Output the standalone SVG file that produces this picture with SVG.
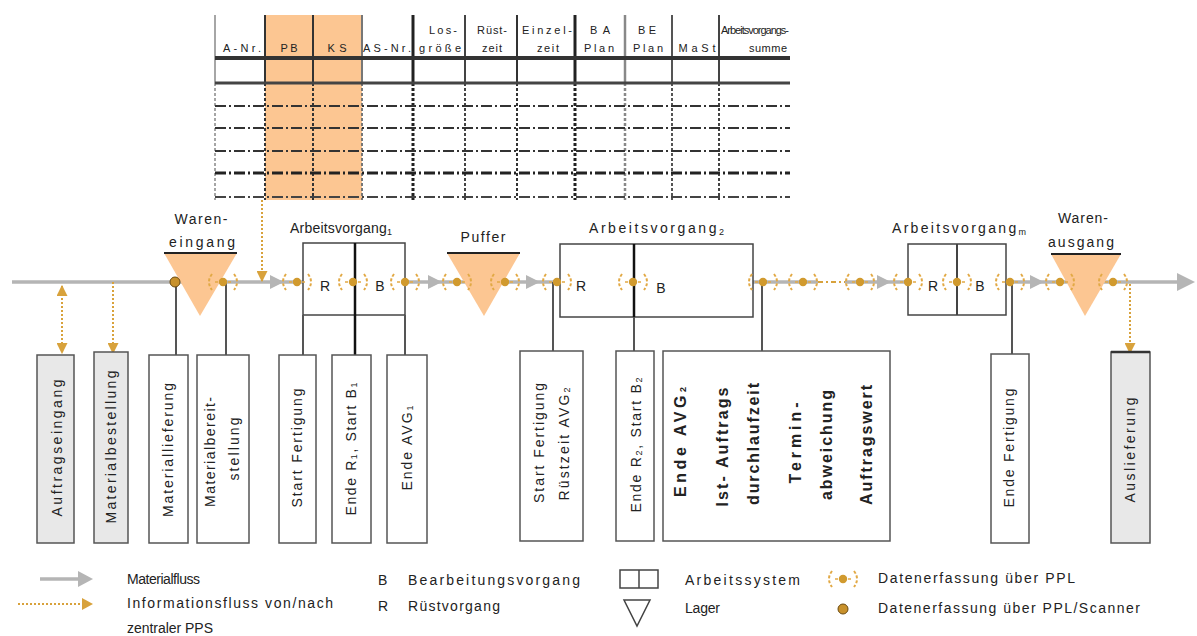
<svg xmlns="http://www.w3.org/2000/svg" width="1197" height="636" viewBox="0 0 1197 636">
  <style>
    text { font-family: "Liberation Sans", Arial, sans-serif; fill: #222; }
    .hd { font-size: 11px; text-anchor: middle; dominant-baseline: central; }
    .lbl { font-size: 14px; text-anchor: middle; dominant-baseline: central; }
    .st { font-size: 14px; dominant-baseline: central; }
    .vt { font-size: 14px; text-anchor: middle; dominant-baseline: central; }
    .vb { font-size: 16px; font-weight: bold; text-anchor: middle; dominant-baseline: central; }
    .sub { font-size: 9px; }
    .box { fill: #fff; stroke: #555; stroke-width: 1.5; }
    .gbox { fill: #e8e8e8; stroke: #555; stroke-width: 1.5; }
    .av { fill: #fff; stroke: #444; stroke-width: 1.5; }
    .lager { fill: #fcc692; }
    .flow { stroke: #b5b5b5; stroke-width: 3.5; fill: none; }
    .ahead { fill: #b5b5b5; }
    .conn { stroke: #555; stroke-width: 2; fill: none; }
    .info { stroke: #d8a23c; stroke-width: 2; stroke-dasharray: 2 2; fill: none; }
    .tl { fill: none; }
    .dd { stroke-dasharray: 11 3 2 3; }
    .dot { stroke-dasharray: 3 2; }
  </style>
  <defs>
    <marker id="ga" viewBox="0 0 10 10" refX="9" refY="5" markerWidth="11" markerHeight="11" markerUnits="userSpaceOnUse" orient="auto-start-reverse">
      <path d="M0,0 L10,5 L0,10 z" fill="#d8a23c"/>
    </marker>
    <!-- data capture point (PPL) -->
    <g id="sensor">
      <path d="M-11,-8 Q-17,0 -11,8" fill="none" stroke="#e2a945" stroke-width="2" stroke-dasharray="3 2"/>
      <path d="M11,-8 Q17,0 11,8" fill="none" stroke="#e2a945" stroke-width="2" stroke-dasharray="3 2"/>
      <path d="M-8,0 H-5 M5,0 H8" stroke="#e2a945" stroke-width="1.6"/>
      <circle r="4.2" fill="#d19a2e"/>
    </g>
  </defs>

  <rect width="1197" height="636" fill="#fff"/>

  <!-- order table -->
  <g id="table">
    <rect x="265" y="15" width="97" height="185" fill="#fcc692"/>
    <g class="tl">
      <line x1="215" y1="15" x2="215" y2="83" stroke="#888" stroke-width="1.5"/>
      <line x1="265" y1="15" x2="265" y2="83" stroke="#333" stroke-width="2"/>
      <line x1="313" y1="15" x2="313" y2="83" stroke="#333" stroke-width="2"/>
      <line x1="362" y1="15" x2="362" y2="83" stroke="#777" stroke-width="2"/>
      <line x1="413" y1="15" x2="413" y2="83" stroke="#222" stroke-width="3"/>
      <line x1="465" y1="15" x2="465" y2="83" stroke="#444" stroke-width="2"/>
      <line x1="517" y1="15" x2="517" y2="83" stroke="#333" stroke-width="2"/>
      <line x1="575" y1="15" x2="575" y2="83" stroke="#222" stroke-width="3"/>
      <line x1="625" y1="15" x2="625" y2="83" stroke="#888" stroke-width="2.5"/>
      <line x1="672" y1="15" x2="672" y2="83" stroke="#555" stroke-width="2"/>
      <line x1="719" y1="15" x2="719" y2="83" stroke="#444" stroke-width="2"/>
    </g>
    <g class="tl dot">
      <line x1="215" y1="83" x2="215" y2="200" stroke="#888" stroke-width="1.5"/>
      <line x1="265" y1="83" x2="265" y2="200" stroke="#333" stroke-width="2"/>
      <line x1="313" y1="83" x2="313" y2="200" stroke="#333" stroke-width="2"/>
      <line x1="362" y1="83" x2="362" y2="200" stroke="#777" stroke-width="2"/>
      <line x1="413" y1="83" x2="413" y2="200" stroke="#222" stroke-width="3"/>
      <line x1="465" y1="83" x2="465" y2="200" stroke="#444" stroke-width="2"/>
      <line x1="517" y1="83" x2="517" y2="200" stroke="#333" stroke-width="2"/>
      <line x1="575" y1="83" x2="575" y2="200" stroke="#222" stroke-width="3"/>
      <line x1="625" y1="83" x2="625" y2="200" stroke="#888" stroke-width="2.5"/>
      <line x1="672" y1="83" x2="672" y2="200" stroke="#555" stroke-width="2"/>
      <line x1="719" y1="83" x2="719" y2="200" stroke="#444" stroke-width="2"/>
    </g>
    <line x1="215" y1="58" x2="790" y2="58" stroke="#333" stroke-width="4"/>
    <line x1="215" y1="83" x2="790" y2="83" stroke="#444" stroke-width="3"/>
    <g class="dd">
      <line x1="215" y1="106" x2="790" y2="106" stroke="#333" stroke-width="2"/>
      <line x1="215" y1="128" x2="790" y2="128" stroke="#333" stroke-width="2"/>
      <line x1="215" y1="151" x2="790" y2="151" stroke="#333" stroke-width="2"/>
      <line x1="215" y1="173" x2="790" y2="173" stroke="#222" stroke-width="3"/>
      <line x1="215" y1="197" x2="790" y2="197" stroke="#444" stroke-width="2"/>
    </g>
    <text class="hd" x="242" y="48" textLength="38">A-Nr.</text>
    <text class="hd" x="289" y="48" textLength="17">PB</text>
    <text class="hd" x="337" y="48" textLength="19">KS</text>
    <text class="hd" x="387" y="48" textLength="48">AS-Nr.</text>
    <text class="hd" x="443" y="30" textLength="28">Los-</text>
    <text class="hd" x="440" y="48" textLength="42">größe</text>
    <text class="hd" x="492" y="30" textLength="30">Rüst-</text>
    <text class="hd" x="492" y="48" textLength="20">zeit</text>
    <text class="hd" x="547" y="30" textLength="50">Einzel-</text>
    <text class="hd" x="548" y="48" textLength="22">zeit</text>
    <text class="hd" x="600" y="30" textLength="20">BA</text>
    <text class="hd" x="599" y="48" textLength="30">Plan</text>
    <text class="hd" x="647" y="30" textLength="18">BE</text>
    <text class="hd" x="648" y="48" textLength="30">Plan</text>
    <text class="hd" x="697" y="48" textLength="37">MaSt</text>
    <text class="hd" x="755" y="30" textLength="68">Arbeitsvorgangs-</text>
    <text class="hd" x="768" y="48" textLength="38">summe</text>
  </g>

  <!-- material flow line -->
  <g id="flow">
    <line class="flow" x1="12" y1="282" x2="818" y2="282"/>
    <line class="flow" x1="845" y1="282" x2="1180" y2="282"/>
    <line x1="818" y1="282" x2="845" y2="282" stroke="#d8a23c" stroke-width="2" stroke-dasharray="5 3 2 3"/>
  </g>

  <!-- work systems -->
  <g id="av1">
    <rect class="av" x="303" y="243" width="102" height="72"/>
    <line x1="355" y1="243" x2="355" y2="315" stroke="#111" stroke-width="2.5"/>
    <text class="lbl" x="325" y="286">R</text>
    <text class="lbl" x="380" y="286">B</text>
    <text class="st" x="290" y="228" textLength="102">Arbeitsvorgang<tspan class="sub" dy="4">1</tspan></text>
  </g>
  <g id="av2">
    <rect class="av" x="560" y="244" width="193" height="73"/>
    <line x1="634" y1="244" x2="634" y2="317" stroke="#111" stroke-width="2.5"/>
    <text class="lbl" x="581" y="286">R</text>
    <text class="lbl" x="661" y="288">B</text>
    <text class="st" x="589" y="228" textLength="135">Arbeitsvorgang<tspan class="sub" dy="4">2</tspan></text>
  </g>
  <g id="avm">
    <rect class="av" x="908" y="244" width="98" height="71"/>
    <line x1="957" y1="244" x2="957" y2="315" stroke="#444" stroke-width="2"/>
    <text class="lbl" x="933" y="286">R</text>
    <text class="lbl" x="980" y="286">B</text>
    <text class="st" x="892" y="228" textLength="134">Arbeitsvorgang<tspan class="sub" dy="4">m</tspan></text>
  </g>

  <!-- stores -->
  <g id="wareneingang">
    <polygon class="lager" points="164,253 237,253 200,316"/>
    <line x1="164" y1="253" x2="237" y2="253" stroke="#222" stroke-width="2"/>
    <text class="lbl" x="201" y="219" textLength="53">Waren-</text>
    <text class="lbl" x="202" y="242" textLength="66">eingang</text>
  </g>
  <g id="puffer">
    <polygon class="lager" points="447,253 520,253 484,316"/>
    <line x1="447" y1="253" x2="520" y2="253" stroke="#222" stroke-width="2"/>
    <text class="lbl" x="483" y="237" textLength="45">Puffer</text>
  </g>
  <g id="warenausgang">
    <polygon class="lager" points="1051,254 1121,254 1085,316"/>
    <line x1="1051" y1="254" x2="1121" y2="254" stroke="#222" stroke-width="2"/>
    <text class="lbl" x="1083" y="218" textLength="50">Waren-</text>
    <text class="lbl" x="1081" y="242" textLength="66">ausgang</text>
  </g>

  <!-- connectors -->
  <g id="connectors">
    <line class="conn" x1="176" y1="282" x2="176" y2="355"/>
    <line class="conn" x1="226" y1="282" x2="226" y2="355"/>
    <line class="conn" x1="303" y1="315" x2="303" y2="355"/>
    <line x1="355" y1="315" x2="355" y2="355" stroke="#111" stroke-width="2.5"/>
    <line class="conn" x1="405" y1="315" x2="405" y2="355"/>
    <line class="conn" x1="553" y1="282" x2="553" y2="351"/>
    <line class="conn" x1="634" y1="317" x2="634" y2="351"/>
    <line class="conn" x1="762" y1="282" x2="762" y2="351"/>
    <line class="conn" x1="1012" y1="282" x2="1012" y2="354"/>
    <line class="info" x1="62" y1="286" x2="62" y2="353" marker-start="url(#ga)" marker-end="url(#ga)"/>
    <line class="info" x1="113" y1="282" x2="113" y2="353" marker-end="url(#ga)"/>
    <line class="info" x1="1130" y1="284" x2="1130" y2="353" marker-end="url(#ga)"/>
    <line class="info" x1="262" y1="200" x2="262" y2="281" marker-end="url(#ga)"/>
    <polygon class="ahead" points="270,275 284,282 270,289"/>
    <polygon class="ahead" points="428,275 442,282 428,289"/>
    <polygon class="ahead" points="526,275 540,282 526,289"/>
    <polygon class="ahead" points="877,275 891,282 877,289"/>
    <polygon class="ahead" points="1030,275 1044,282 1030,289"/>
    <polygon class="ahead" points="1177,273 1195,282 1177,291"/>
  </g>

  <!-- data capture points -->
  <g id="capture">
    <circle cx="175" cy="282" r="5" fill="#c8912b" stroke="#6b4a10" stroke-width="1"/>
    <use href="#sensor" x="223" y="282"/>
    <use href="#sensor" x="297" y="282"/>
    <use href="#sensor" x="353" y="282"/>
    <use href="#sensor" x="405" y="282"/>
    <use href="#sensor" x="457" y="282"/>
    <use href="#sensor" x="505" y="282"/>
    <use href="#sensor" x="557" y="282"/>
    <use href="#sensor" x="633" y="282"/>
    <use href="#sensor" x="763" y="282"/>
    <use href="#sensor" x="803" y="282"/>
    <use href="#sensor" x="860" y="282"/>
    <use href="#sensor" x="908" y="282"/>
    <use href="#sensor" x="957" y="282"/>
    <use href="#sensor" x="1010" y="282"/>
    <use href="#sensor" x="1060" y="282"/>
    <use href="#sensor" x="1113" y="282"/>
  </g>

  <!-- event boxes -->
  <g id="auftragseingang">
    <rect class="gbox" x="37" y="355" width="37" height="188"/>
    <text class="vt" transform="translate(57,448) rotate(-90)" textLength="137">Auftragseingang</text>
  </g>
  <g id="materialbestellung">
    <rect class="gbox" x="94" y="352" width="34" height="191"/>
    <text class="vt" transform="translate(111,447) rotate(-90)" textLength="153">Materialbestellung</text>
  </g>
  <g id="materiallieferung">
    <rect class="box" x="149" y="355" width="39" height="188"/>
    <text class="vt" transform="translate(168,450) rotate(-90)" textLength="134">Materiallieferung</text>
  </g>
  <g id="materialbereitstellung">
    <rect class="box" x="197" y="355" width="52" height="188"/>
    <text class="vt" transform="translate(210,452) rotate(-90)" textLength="110">Materialbereit-</text>
    <text class="vt" transform="translate(234,449) rotate(-90)" textLength="63">stellung</text>
  </g>
  <g id="start-fertigung-1">
    <rect class="box" x="279" y="355" width="37" height="188"/>
    <text class="vt" transform="translate(297,448) rotate(-90)" textLength="119">Start Fertigung</text>
  </g>
  <g id="ende-r1">
    <rect class="box" x="332" y="355" width="39" height="188"/>
    <text class="vt" transform="translate(351,449) rotate(-90)" textLength="133">Ende R<tspan class="sub" dy="3">1</tspan><tspan dy="-3">, Start B</tspan><tspan class="sub" dy="3">1</tspan></text>
  </g>
  <g id="ende-avg1">
    <rect class="box" x="387" y="355" width="40" height="188"/>
    <text class="vt" transform="translate(407,448) rotate(-90)" textLength="85">Ende AVG<tspan class="sub" dy="3">1</tspan></text>
  </g>
  <g id="start-fertigung-2">
    <rect class="box" x="520" y="351" width="63" height="190"/>
    <text class="vt" transform="translate(539,443) rotate(-90)" textLength="120">Start Fertigung</text>
    <text class="vt" transform="translate(564,444) rotate(-90)" textLength="113">Rüstzeit AVG<tspan class="sub" dy="3">2</tspan></text>
  </g>
  <g id="ende-r2">
    <rect class="box" x="616" y="351" width="38" height="190"/>
    <text class="vt" transform="translate(636,445) rotate(-90)" textLength="135">Ende R<tspan class="sub" dy="3">2</tspan><tspan dy="-3">, Start B</tspan><tspan class="sub" dy="3">2</tspan></text>
  </g>
  <g id="ende-avg2">
    <rect class="box" x="663" y="351" width="227" height="190"/>
    <text class="vb" transform="translate(680,442) rotate(-90)" textLength="110">Ende AVG<tspan class="sub" dy="3">2</tspan></text>
    <text class="vb" transform="translate(722,447) rotate(-90)" textLength="119">Ist- Auftrags</text>
    <text class="vb" transform="translate(753,444) rotate(-90)" textLength="122">durchlaufzeit</text>
    <text class="vb" transform="translate(795,443) rotate(-90)" textLength="81">Termin-</text>
    <text class="vb" transform="translate(826,445) rotate(-90)" textLength="110">abweichung</text>
    <text class="vb" transform="translate(866,445) rotate(-90)" textLength="120">Auftragswert</text>
  </g>
  <g id="ende-fertigung">
    <rect class="box" x="991" y="354" width="38" height="189"/>
    <text class="vt" transform="translate(1009,448) rotate(-90)" textLength="119">Ende Fertigung</text>
  </g>
  <g id="auslieferung">
    <rect class="gbox" x="1111" y="352" width="39" height="191"/>
    <line x1="1111" y1="352" x2="1150" y2="352" stroke="#333" stroke-width="2.5"/>
    <text class="vt" transform="translate(1130,450) rotate(-90)" textLength="105">Auslieferung</text>
  </g>

  <!-- legend -->
  <g id="legend">
    <line class="flow" x1="40" y1="579" x2="79" y2="579" stroke-width="4"/>
    <polygon class="ahead" points="78,571 93,579 78,587"/>
    <text class="st" x="127" y="579" textLength="73">Materialfluss</text>
    <line class="info" x1="18" y1="604" x2="82" y2="604"/>
    <polygon points="82,598 93,604 82,610" fill="#d8a23c"/>
    <text class="st" x="127" y="603" textLength="206">Informationsfluss von/nach</text>
    <text class="st" x="127" y="628" textLength="86">zentraler PPS</text>
    <text class="st" x="378" y="580">B</text>
    <text class="st" x="408" y="580" textLength="172">Bearbeitungsvorgang</text>
    <text class="st" x="378" y="606">R</text>
    <text class="st" x="408" y="606" textLength="92">Rüstvorgang</text>
    <rect x="620" y="570" width="38" height="18" fill="#fff" stroke="#444" stroke-width="1.5"/>
    <line x1="639" y1="570" x2="639" y2="588" stroke="#444" stroke-width="1.5"/>
    <text class="st" x="685" y="580" textLength="115">Arbeitssystem</text>
    <polygon points="624,600 650,600 637,626" fill="#fff" stroke="#444" stroke-width="1.5"/>
    <text class="st" x="685" y="608" textLength="35">Lager</text>
    <use href="#sensor" x="843" y="579"/>
    <text class="st" x="878" y="578" textLength="197">Datenerfassung über PPL</text>
    <circle cx="843" cy="609" r="5" fill="#c8912b" stroke="#6b4a10" stroke-width="1"/>
    <text class="st" x="878" y="608" textLength="262">Datenerfassung über PPL/Scanner</text>
  </g>
</svg>
